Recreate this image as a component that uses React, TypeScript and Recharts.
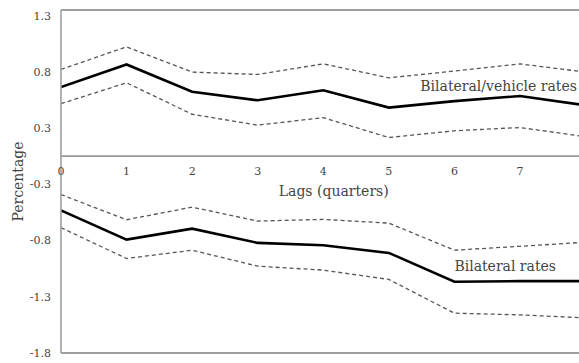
import React from 'react';
import { LineChart, Line, XAxis, YAxis, CartesianGrid, ReferenceLine, ReferenceDot } from 'recharts';

// lags 0..8 (the last one sits just past the right edge of the frame)
const lags = [0, 1, 2, 3, 4, 5, 6, 7, 8];
const vehicleMid = [0.615, 0.816, 0.573, 0.497, 0.586, 0.432, 0.49, 0.535, 0.453];
const vehicleHigh = [0.772, 0.972, 0.748, 0.727, 0.821, 0.697, 0.757, 0.821, 0.748];
const vehicleLow = [0.467, 0.653, 0.373, 0.276, 0.343, 0.166, 0.226, 0.255, 0.173];
const bilateralMid = [-0.482, -0.742, -0.644, -0.771, -0.792, -0.86, -1.117, -1.111, -1.111];
const bilateralHigh = [-0.341, -0.565, -0.453, -0.577, -0.562, -0.595, -0.836, -0.801, -0.765];
const bilateralLow = [-0.635, -0.91, -0.836, -0.978, -1.013, -1.096, -1.396, -1.411, -1.438];

const xTicks = [0, 1, 2, 3, 4, 5, 6, 7];
const yTicks = [1.25, 0.75, 0.25, -0.25, -0.75, -1.25, -1.75];
const yDomain = [-1.75, 1.3];
const xDomain = [0, 7.9];
// frame top, frame bottom and the zero line
const gridValues = [1.3, 0, -1.75];

const data = lags.map((lag, i) => ({
  lag,
  vehicleMid: vehicleMid[i],
  vehicleHigh: vehicleHigh[i],
  vehicleLow: vehicleLow[i],
  bilateralMid: bilateralMid[i],
  bilateralHigh: bilateralHigh[i],
  bilateralLow: bilateralLow[i],
}));

const FONT = '"DejaVu Serif", serif';
const AXIS = '#999';
const TEXT = '#444';

const textAt = (value: string, dx: number, dy: number, anchor: string, size = 11) => (props: any) => (
  <text
    x={props.cx + dx}
    y={props.cy + dy}
    textAnchor={anchor}
    dominantBaseline="central"
    fontFamily={FONT}
    fontSize={size}
    fill={TEXT}
  >
    {value}
  </text>
);

const App: React.FC = () => {
  return (
    <div style={{ width: 579, height: 363, background: '#fff' }}>
      <style>{'body { margin: 0; }'}</style>
      <LineChart width={579} height={363} data={data} margin={{ top: 10, right: 0, bottom: 10, left: 0 }}>
        <CartesianGrid vertical={false} horizontalValues={gridValues} stroke={AXIS} strokeWidth={1.5} strokeDasharray="" />
        <XAxis dataKey="lag" type="number" domain={xDomain} allowDataOverflow ticks={xTicks} hide />
        <YAxis
          width={61}
          domain={yDomain}
          ticks={yTicks}
          interval={0}
          tickFormatter={(v: number) => v.toFixed(1)}
          tickLine={false}
          tickSize={6}
          tickMargin={4}
          axisLine={{ stroke: AXIS, strokeWidth: 1.5 }}
          tick={{ fill: TEXT, fontSize: 11, fontFamily: FONT }}
          label={({ viewBox }: any) => (
            <text
              x={18}
              y={viewBox.y + viewBox.height / 2}
              transform={`rotate(-90, 18, ${viewBox.y + viewBox.height / 2})`}
              textAnchor="middle"
              dominantBaseline="central"
              fontFamily={FONT}
              fontSize={14}
              fill={TEXT}
            >
              Percentage
            </text>
          )}
        />
        {gridValues.map(v => (
          <ReferenceLine key={v} y={v} ifOverflow="extendDomain" stroke={AXIS} strokeWidth={1.5} />
        ))}
        {xTicks.map(t => (
          <ReferenceDot key={t} x={t} y={0} r={0} shape={textAt(String(t), 0, 15, 'middle')} />
        ))}
        <ReferenceDot x={4.16} y={0} r={0} shape={textAt('Lags (quarters)', 0, 35, 'middle', 14)} />

        <Line dataKey="vehicleHigh" type="linear" stroke="#555" strokeWidth={1.3} strokeDasharray="4 3" dot={false} isAnimationActive={false} />
        <Line dataKey="vehicleLow" type="linear" stroke="#555" strokeWidth={1.3} strokeDasharray="4 3" dot={false} isAnimationActive={false} />
        <Line dataKey="vehicleMid" type="linear" stroke="#000" strokeWidth={2.6} dot={false} isAnimationActive={false} />
        <Line dataKey="bilateralHigh" type="linear" stroke="#555" strokeWidth={1.3} strokeDasharray="4 3" dot={false} isAnimationActive={false} />
        <Line dataKey="bilateralLow" type="linear" stroke="#555" strokeWidth={1.3} strokeDasharray="4 3" dot={false} isAnimationActive={false} />
        <Line dataKey="bilateralMid" type="linear" stroke="#000" strokeWidth={2.6} dot={false} isAnimationActive={false} />

        <ReferenceDot x={5.48} y={0.624} r={0} shape={textAt('Bilateral/vehicle rates', 0, 0, 'start', 14)} />
        <ReferenceDot x={6.0} y={-0.975} r={0} shape={textAt('Bilateral rates', 0, 0, 'start', 14)} />
      </LineChart>
    </div>
  );
};

export default App;
